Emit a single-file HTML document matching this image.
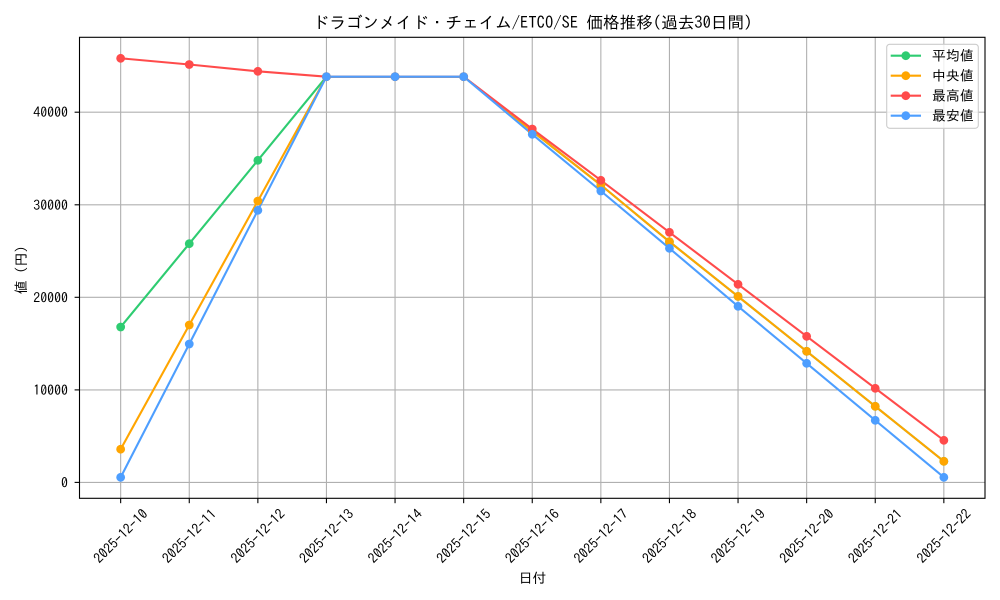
<!DOCTYPE html>
<html><head><meta charset="utf-8"><style>
html,body{margin:0;padding:0;background:#fff;}
svg{display:block;font-family:"IPAGothic","Liberation Sans","Noto Sans CJK JP",sans-serif;}
</style></head><body>
<svg width="1000" height="600" viewBox="0 0 1000 600" xmlns="http://www.w3.org/2000/svg">
<rect width="1000" height="600" fill="#fff"/>
<!-- grid -->
<g stroke="#b0b0b0" stroke-width="1.1">
<line x1="79.5" x2="985" y1="482.4" y2="482.4"/>
<line x1="79.5" x2="985" y1="389.9" y2="389.9"/>
<line x1="79.5" x2="985" y1="297.3" y2="297.3"/>
<line x1="79.5" x2="985" y1="204.8" y2="204.8"/>
<line x1="79.5" x2="985" y1="112.2" y2="112.2"/>
<line x1="120.66" x2="120.66" y1="37.3" y2="498.3"/>
<line x1="189.26" x2="189.26" y1="37.3" y2="498.3"/>
<line x1="257.86" x2="257.86" y1="37.3" y2="498.3"/>
<line x1="326.45" x2="326.45" y1="37.3" y2="498.3"/>
<line x1="395.05" x2="395.05" y1="37.3" y2="498.3"/>
<line x1="463.65" x2="463.65" y1="37.3" y2="498.3"/>
<line x1="532.25" x2="532.25" y1="37.3" y2="498.3"/>
<line x1="600.85" x2="600.85" y1="37.3" y2="498.3"/>
<line x1="669.44" x2="669.44" y1="37.3" y2="498.3"/>
<line x1="738.04" x2="738.04" y1="37.3" y2="498.3"/>
<line x1="806.64" x2="806.64" y1="37.3" y2="498.3"/>
<line x1="875.24" x2="875.24" y1="37.3" y2="498.3"/>
<line x1="943.84" x2="943.84" y1="37.3" y2="498.3"/>
</g>
<!-- series -->
<g fill="none" stroke-width="2.1" stroke-linejoin="round" stroke-linecap="square">
<polyline stroke="#2ecc71" points="120.66,327 189.26,243.7 257.86,160.3 326.45,76.7 395.05,76.7 463.65,76.7 532.25,131.2 600.85,185 669.44,241.7 738.04,296.4 806.64,351.3 875.24,406.3 943.84,461.3"/>
<polyline stroke="#ffa500" points="120.66,449.2 189.26,325 257.86,201 326.45,76.7 395.05,76.7 463.65,76.7 532.25,131.2 600.85,185 669.44,241.7 738.04,296.4 806.64,351.3 875.24,406.3 943.84,461.3"/>
<polyline stroke="#ff4b4b" points="120.66,58.3 189.26,64.5 257.86,71.3 326.45,76.7 395.05,76.7 463.65,76.7 532.25,129 600.85,180.3 669.44,232.3 738.04,284.3 806.64,336.3 875.24,388.3 943.84,440.3"/>
<polyline stroke="#4d9eff" points="120.66,477.3 189.26,344 257.86,210.3 326.45,76.7 395.05,76.7 463.65,76.7 532.25,134.3 600.85,191 669.44,248.3 738.04,306.3 806.64,363.3 875.24,420.3 943.84,477.3"/>
</g>
<g fill="#2ecc71">
<circle cx="120.66" cy="327" r="4.4"/><circle cx="189.26" cy="243.7" r="4.4"/><circle cx="257.86" cy="160.3" r="4.4"/><circle cx="326.45" cy="76.7" r="4.4"/><circle cx="395.05" cy="76.7" r="4.4"/><circle cx="463.65" cy="76.7" r="4.4"/><circle cx="532.25" cy="131.2" r="4.4"/><circle cx="600.85" cy="185" r="4.4"/><circle cx="669.44" cy="241.7" r="4.4"/><circle cx="738.04" cy="296.4" r="4.4"/><circle cx="806.64" cy="351.3" r="4.4"/><circle cx="875.24" cy="406.3" r="4.4"/><circle cx="943.84" cy="461.3" r="4.4"/>
</g>
<g fill="#ffa500">
<circle cx="120.66" cy="449.2" r="4.4"/><circle cx="189.26" cy="325" r="4.4"/><circle cx="257.86" cy="201" r="4.4"/><circle cx="326.45" cy="76.7" r="4.4"/><circle cx="395.05" cy="76.7" r="4.4"/><circle cx="463.65" cy="76.7" r="4.4"/><circle cx="532.25" cy="131.2" r="4.4"/><circle cx="600.85" cy="185" r="4.4"/><circle cx="669.44" cy="241.7" r="4.4"/><circle cx="738.04" cy="296.4" r="4.4"/><circle cx="806.64" cy="351.3" r="4.4"/><circle cx="875.24" cy="406.3" r="4.4"/><circle cx="943.84" cy="461.3" r="4.4"/>
</g>
<g fill="#ff4b4b">
<circle cx="120.66" cy="58.3" r="4.4"/><circle cx="189.26" cy="64.5" r="4.4"/><circle cx="257.86" cy="71.3" r="4.4"/><circle cx="326.45" cy="76.7" r="4.4"/><circle cx="395.05" cy="76.7" r="4.4"/><circle cx="463.65" cy="76.7" r="4.4"/><circle cx="532.25" cy="129" r="4.4"/><circle cx="600.85" cy="180.3" r="4.4"/><circle cx="669.44" cy="232.3" r="4.4"/><circle cx="738.04" cy="284.3" r="4.4"/><circle cx="806.64" cy="336.3" r="4.4"/><circle cx="875.24" cy="388.3" r="4.4"/><circle cx="943.84" cy="440.3" r="4.4"/>
</g>
<g fill="#4d9eff">
<circle cx="120.66" cy="477.3" r="4.4"/><circle cx="189.26" cy="344" r="4.4"/><circle cx="257.86" cy="210.3" r="4.4"/><circle cx="326.45" cy="76.7" r="4.4"/><circle cx="395.05" cy="76.7" r="4.4"/><circle cx="463.65" cy="76.7" r="4.4"/><circle cx="532.25" cy="134.3" r="4.4"/><circle cx="600.85" cy="191" r="4.4"/><circle cx="669.44" cy="248.3" r="4.4"/><circle cx="738.04" cy="306.3" r="4.4"/><circle cx="806.64" cy="363.3" r="4.4"/><circle cx="875.24" cy="420.3" r="4.4"/><circle cx="943.84" cy="477.3" r="4.4"/>
</g>
<!-- axes frame -->
<rect x="79.5" y="37.3" width="905.5" height="461" fill="none" stroke="#000" stroke-width="1.1"/>
<!-- y ticks -->
<g stroke="#000" stroke-width="1.1">
<line x1="74.6" x2="79.5" y1="482.4" y2="482.4"/>
<line x1="74.6" x2="79.5" y1="389.9" y2="389.9"/>
<line x1="74.6" x2="79.5" y1="297.3" y2="297.3"/>
<line x1="74.6" x2="79.5" y1="204.8" y2="204.8"/>
<line x1="74.6" x2="79.5" y1="112.2" y2="112.2"/>
</g>
<g font-size="13.9" fill="#000" text-anchor="end" dominant-baseline="central">
<text x="68" y="482.4">0</text>
<text x="68" y="389.9">10000</text>
<text x="68" y="297.3">20000</text>
<text x="68" y="204.8">30000</text>
<text x="68" y="112.2">40000</text>
</g>
<!-- x ticks -->
<g stroke="#000" stroke-width="1.1">
<line x1="120.66" x2="120.66" y1="498.3" y2="503.2"/>
<line x1="189.26" x2="189.26" y1="498.3" y2="503.2"/>
<line x1="257.86" x2="257.86" y1="498.3" y2="503.2"/>
<line x1="326.45" x2="326.45" y1="498.3" y2="503.2"/>
<line x1="395.05" x2="395.05" y1="498.3" y2="503.2"/>
<line x1="463.65" x2="463.65" y1="498.3" y2="503.2"/>
<line x1="532.25" x2="532.25" y1="498.3" y2="503.2"/>
<line x1="600.85" x2="600.85" y1="498.3" y2="503.2"/>
<line x1="669.44" x2="669.44" y1="498.3" y2="503.2"/>
<line x1="738.04" x2="738.04" y1="498.3" y2="503.2"/>
<line x1="806.64" x2="806.64" y1="498.3" y2="503.2"/>
<line x1="875.24" x2="875.24" y1="498.3" y2="503.2"/>
<line x1="943.84" x2="943.84" y1="498.3" y2="503.2"/>
</g>
<g font-size="13.9" fill="#000" text-anchor="middle" dominant-baseline="central">
<text transform="translate(120.66,536) rotate(-45)">2025-12-10</text>
<text transform="translate(189.26,536) rotate(-45)">2025-12-11</text>
<text transform="translate(257.86,536) rotate(-45)">2025-12-12</text>
<text transform="translate(326.45,536) rotate(-45)">2025-12-13</text>
<text transform="translate(395.05,536) rotate(-45)">2025-12-14</text>
<text transform="translate(463.65,536) rotate(-45)">2025-12-15</text>
<text transform="translate(532.25,536) rotate(-45)">2025-12-16</text>
<text transform="translate(600.85,536) rotate(-45)">2025-12-17</text>
<text transform="translate(669.44,536) rotate(-45)">2025-12-18</text>
<text transform="translate(738.04,536) rotate(-45)">2025-12-19</text>
<text transform="translate(806.64,536) rotate(-45)">2025-12-20</text>
<text transform="translate(875.24,536) rotate(-45)">2025-12-21</text>
<text transform="translate(943.84,536) rotate(-45)">2025-12-22</text>
</g>
<!-- axis labels -->
<text x="532.5" y="578" font-size="13.9" text-anchor="middle" dominant-baseline="central" fill="#000">日付</text>
<text transform="translate(21,270) rotate(-90)" font-size="13.9" text-anchor="middle" dominant-baseline="central" fill="#000">値 (円)</text>
<!-- title -->
<text x="532.5" y="22" font-size="16.6" text-anchor="middle" dominant-baseline="central" fill="#000">ドラゴンメイド・チェイム/ETCO/SE 価格推移(過去30日間)</text>
<!-- legend -->
<rect x="886.7" y="44.3" width="91.6" height="84" rx="3" ry="3" fill="#fff" fill-opacity="0.8" stroke="#cccccc" stroke-width="1.1"/>
<g stroke-width="2.1">
<line x1="890.7" x2="921" y1="55.7" y2="55.7" stroke="#2ecc71"/>
<line x1="890.7" x2="921" y1="75.7" y2="75.7" stroke="#ffa500"/>
<line x1="890.7" x2="921" y1="95.7" y2="95.7" stroke="#ff4b4b"/>
<line x1="890.7" x2="921" y1="115.7" y2="115.7" stroke="#4d9eff"/>
</g>
<circle cx="905.8" cy="55.7" r="4.4" fill="#2ecc71"/>
<circle cx="905.8" cy="75.7" r="4.4" fill="#ffa500"/>
<circle cx="905.8" cy="95.7" r="4.4" fill="#ff4b4b"/>
<circle cx="905.8" cy="115.7" r="4.4" fill="#4d9eff"/>
<g font-size="13.9" fill="#000" dominant-baseline="central">
<text x="932" y="55.7">平均値</text>
<text x="932" y="75.7">中央値</text>
<text x="932" y="95.7">最高値</text>
<text x="932" y="115.7">最安値</text>
</g>
</svg>
</body></html>
